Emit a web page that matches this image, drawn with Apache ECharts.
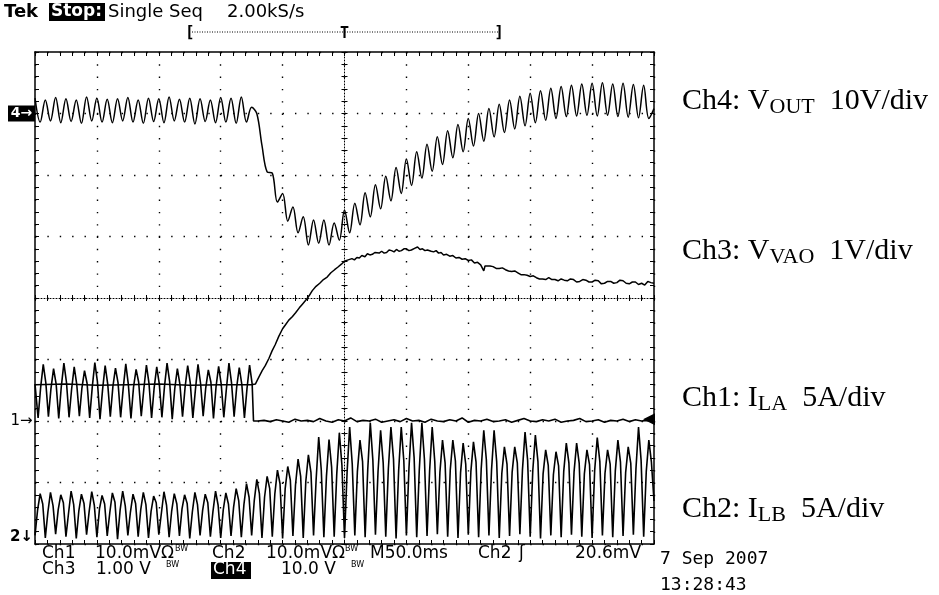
<!DOCTYPE html>
<html><head><meta charset="utf-8">
<script src="https://cdn.jsdelivr.net/npm/echarts/dist/echarts.min.js"></script>
<style>html,body{margin:0;padding:0;background:#fff;}#c{width:939px;height:595px;}</style>
</head><body><div id="c"></div>
<script>
// ===== DATA (time in divisions, 50 ms/div; amplitude in divisions) =====
const tStart = -5, tEnd = 5;
const ripplePeriod = 1 / 6;           // 120 Hz ripple = 8.33 ms = 1/6 div

// Ch4 VOUT: one peak and one trough per ripple cycle
const ch4Peaks = [3.25,3.22,3.26,3.24,3.22,3.27,3.25,3.23,3.24,3.26,3.22,3.25,3.24,3.27,3.23,3.25,3.24,3.22,3.26,3.25,3.27,
  3.10,2.48,2.03,1.70,1.48,1.32,1.27,1.27,1.22,1.43,1.54,1.71,1.84,1.98,2.12,2.26,2.38,2.50,2.62,2.72,2.82,2.92,3.00,3.08,
  3.15,3.22,3.28,3.33,3.37,3.41,3.44,3.46,3.48,3.49,3.50,3.48,3.49,3.47,3.46];
const ch4Troughs = [2.86,2.88,2.85,2.87,2.84,2.88,2.86,2.85,2.88,2.86,2.84,2.87,2.85,2.88,2.86,2.83,2.87,2.85,2.86,2.84,2.86,
  3.00,2.05,1.56,1.25,1.06,0.86,0.89,0.86,0.94,1.06,1.19,1.32,1.45,1.58,1.70,1.83,1.95,2.06,2.17,2.28,2.38,2.47,2.55,2.62,
  2.69,2.75,2.80,2.85,2.89,2.92,2.95,2.96,2.97,2.96,2.97,2.95,2.94,2.93,2.92];
const ch4End = 3.08;
const ch4Ground = 3.0;

// Ch3 VVAO: [time, value]
const ch3Points = [[-5.0,-1.41],[-4.5,-1.40],[-4.0,-1.42],[-3.5,-1.41],[-3.0,-1.40],[-2.5,-1.42],[-2.0,-1.41],[-1.5,-1.41],[-1.44,-1.40],
  [-1.39,-1.30],[-1.33,-1.18],[-1.28,-1.10],[-1.22,-0.98],[-1.17,-0.86],[-1.12,-0.76],[-1.06,-0.62],[-1.0,-0.50],[-0.95,-0.43],
  [-0.9,-0.36],[-0.84,-0.30],[-0.79,-0.24],[-0.73,-0.16],[-0.68,-0.10],[-0.62,-0.03],[-0.57,0.04],[-0.52,0.12],[-0.46,0.19],
  [-0.40,0.24],[-0.34,0.30],[-0.28,0.34],[-0.22,0.41],[-0.16,0.46],[-0.11,0.50],[-0.05,0.55],[0.0,0.60],[0.06,0.62],[0.12,0.64],
  [0.16,0.62],[0.2,0.66],[0.24,0.65],[0.28,0.69],[0.33,0.67],[0.37,0.72],[0.41,0.70],[0.45,0.71],[0.49,0.74],[0.52,0.75],[0.56,0.73],
  [0.6,0.76],[0.64,0.73],[0.68,0.74],[0.72,0.78],[0.76,0.77],[0.8,0.75],[0.84,0.79],[0.88,0.76],[0.92,0.77],[0.96,0.80],[1.0,0.80],
  [1.04,0.77],[1.08,0.78],[1.11,0.76],[1.14,0.81],[1.18,0.83],[1.22,0.79],[1.26,0.80],[1.30,0.77],[1.34,0.78],[1.37,0.79],
  [1.4,0.76],[1.44,0.75],[1.48,0.77],[1.52,0.73],[1.56,0.74],[1.6,0.70],[1.65,0.71],[1.7,0.68],[1.75,0.69],[1.8,0.65],[1.85,0.66],
  [1.9,0.63],[1.95,0.64],[2.0,0.61],[2.05,0.62],[2.1,0.57],[2.15,0.58],[2.2,0.54],[2.25,0.44],[2.27,0.52],[2.3,0.50],[2.35,0.52],
  [2.4,0.51],[2.45,0.48],[2.5,0.48],[2.55,0.49],[2.6,0.46],[2.65,0.44],[2.7,0.43],[2.75,0.44],[2.8,0.41],[2.85,0.38],[2.9,0.38],
  [2.95,0.37],[3.0,0.35],[3.05,0.36],[3.1,0.33],[3.15,0.31],[3.2,0.31],[3.25,0.30],[3.3,0.33],[3.35,0.30],[3.4,0.30],[3.45,0.28],
  [3.5,0.31],[3.55,0.29],[3.6,0.28],[3.65,0.31],[3.7,0.30],[3.75,0.26],[3.8,0.27],[3.85,0.30],[3.9,0.29],[3.95,0.26],[4.0,0.26],
  [4.05,0.29],[4.1,0.28],[4.15,0.23],[4.2,0.24],[4.25,0.27],[4.3,0.27],[4.35,0.24],[4.4,0.25],[4.45,0.29],[4.5,0.28],[4.55,0.24],
  [4.6,0.23],[4.65,0.26],[4.7,0.26],[4.75,0.22],[4.8,0.24],[4.85,0.21],[4.9,0.27],[4.95,0.25],[5.0,0.24]];

// Ch1 ILA: per ripple cycle [trough, rise, peak, fall] before phase shedding
const ch1Start = -4.95;
const ch1Cycles = [[-1.95,-1.45,-1.08,-1.38],[-1.93,-1.47,-1.15,-1.40],[-1.96,-1.44,-1.06,-1.37],[-1.94,-1.48,-1.12,-1.41],
  [-1.92,-1.46,-1.18,-1.39],[-1.95,-1.45,-1.05,-1.36],[-1.97,-1.49,-1.10,-1.40],[-1.93,-1.44,-1.14,-1.38],[-1.94,-1.47,-1.07,-1.41],
  [-1.96,-1.45,-1.16,-1.37],[-1.92,-1.48,-1.09,-1.39],[-1.95,-1.46,-1.12,-1.40],[-1.94,-1.44,-1.06,-1.36],[-1.97,-1.47,-1.15,-1.41],
  [-1.93,-1.45,-1.10,-1.38],[-1.95,-1.49,-1.08,-1.39],[-1.92,-1.46,-1.17,-1.37],[-1.96,-1.44,-1.11,-1.40],[-1.94,-1.48,-1.06,-1.38],
  [-1.93,-1.45,-1.13,-1.41],[-1.95,-1.47,-1.09,-1.40]];
const ch1FirstValue = -1.40;
const ch1DropTime = -1.47;
const ch1Ground = -2.0;
const ch1OffStart = -1.4, ch1OffStep = 0.1;
const ch1Off = [-2.00,-1.99,-2.01,-1.98,-2.00,-2.02,-1.97,-2.00,-1.99,-2.01,-1.96,-2.00,-2.02,-1.98,-2.00,-1.95,-2.01,-1.99,-2.00,
  -1.97,-2.02,-2.00,-1.98,-2.01,-1.96,-2.00,-1.99,-2.02,-1.97,-2.00,-2.01,-1.98,-2.00,-1.95,-2.02,-1.99,-2.00,-1.97,-2.01,-2.00,
  -1.98,-2.02,-1.99,-1.96,-2.00,-2.01,-1.98,-2.00,-1.97,-2.02,-2.00,-1.99,-1.96,-2.01,-2.00,-1.98,-2.02,-1.99,-2.00,-1.97,-2.01,
  -1.98,-2.00,-1.99,-2.00];
const trigLevel = -1.97;

// Ch2 ILB: per ripple cycle [trough, rise, peak, fall]
const ch2Cycles = [[-3.86,-3.45,-3.18,-3.35],[-3.90,-3.48,-3.16,-3.38],[-3.84,-3.44,-3.20,-3.33],[-3.88,-3.50,-3.14,-3.36],
  [-3.91,-3.46,-3.19,-3.34],[-3.85,-3.47,-3.15,-3.37],[-3.89,-3.43,-3.21,-3.35],[-3.87,-3.49,-3.17,-3.32],[-3.92,-3.45,-3.14,-3.38],
  [-3.86,-3.48,-3.19,-3.34],[-3.88,-3.44,-3.16,-3.36],[-3.90,-3.47,-3.22,-3.33],[-3.85,-3.50,-3.15,-3.37],[-3.89,-3.46,-3.18,-3.35],
  [-3.87,-3.43,-3.20,-3.34],[-3.91,-3.48,-3.16,-3.36],[-3.86,-3.45,-3.19,-3.33],[-3.88,-3.47,-3.14,-3.37],[-3.90,-3.44,-3.17,-3.35],
  [-3.87,-3.40,-3.10,-3.30],[-3.89,-3.36,-3.02,-3.24],[-3.86,-3.30,-2.95,-3.18],[-3.90,-3.24,-2.90,-3.10],[-3.88,-3.18,-2.80,-3.02],
  [-3.91,-3.10,-2.74,-2.96],[-3.87,-3.04,-2.62,-2.90],[-3.90,-2.98,-2.55,-2.84],[-3.86,-2.95,-2.26,-2.80],[-3.89,-2.90,-2.30,-2.75],
  [-3.88,-2.86,-2.19,-2.72],[-3.90,-2.84,-2.10,-2.70],[-3.86,-2.82,-2.31,-2.66],[-3.89,-2.80,-2.03,-2.64],[-3.85,-2.82,-2.15,-2.68],
  [-3.88,-2.78,-2.10,-2.62],[-3.91,-2.80,-2.10,-2.65],[-3.86,-2.76,-2.03,-2.60],[-3.89,-2.79,-2.03,-2.63],[-3.87,-2.81,-2.10,-2.66],
  [-3.84,-2.83,-2.31,-2.68],[-3.88,-2.80,-2.31,-2.65],[-3.90,-2.84,-2.36,-2.70],[-3.85,-2.82,-2.34,-2.67],[-3.89,-2.78,-2.15,-2.63],
  [-3.86,-2.80,-2.15,-2.66],[-3.90,-2.85,-2.42,-2.70],[-3.87,-2.83,-2.42,-2.68],[-3.84,-2.79,-2.18,-2.64],[-3.88,-2.81,-2.23,-2.66],
  [-3.91,-2.86,-2.47,-2.72],[-3.86,-2.87,-2.50,-2.73],[-3.89,-2.82,-2.36,-2.68],[-3.85,-2.83,-2.36,-2.69],[-3.88,-2.86,-2.47,-2.71],
  [-3.90,-2.80,-2.27,-2.66],[-3.86,-2.85,-2.47,-2.70],[-3.89,-2.81,-2.31,-2.67],[-3.87,-2.84,-2.42,-2.69],[-3.85,-2.78,-2.10,-2.64],
  [-3.88,-2.82,-2.31,-2.67]];
const ch2Start = -5.0;
const ch2End = -3.3;
const ch2Marker = -3.88;

// Text
const headerTexts = ['Tek', 'Stop:', 'Single Seq', '2.00kS/s'];
const readoutRow1 = ['Ch1', '10.0mVΩ', 'Ch2', '10.0mVΩ', 'M50.0ms', 'Ch2', 'ʃ', '20.6mV'];
const readoutRow2 = ['Ch3', '1.00 V', 'Ch4', '10.0 V'];
const dateText = '7 Sep 2007', timeText = '13:28:43';
const channelLabels = [
  {ch:'Ch4: V', sub:'OUT', rest:'  10V/div', level: 'ch4'},
  {ch:'Ch3: V', sub:'VAO', rest:'  1V/div', level: 'ch3'},
  {ch:'Ch1: I', sub:'LA', rest:'  5A/div', level: 'ch1'},
  {ch:'Ch2: I', sub:'LB', rest:'  5A/div', level: 'ch2'}
];

// ===== BUILD =====
function buildRipple(peaks, troughs, t0, endVal) {
  const pts = [];
  for (let k = 0; k < peaks.length; k++) {
    const t = t0 + k * ripplePeriod;
    pts.push([t, peaks[k]]);
    pts.push([t + ripplePeriod / 2, troughs[k]]);
  }
  pts.push([tEnd, endVal]);
  return pts;
}
function buildCycles(rows, t0) {
  const pts = [];
  rows.forEach((r, k) => r.forEach((v, j) => pts.push([t0 + k * ripplePeriod + j * ripplePeriod / 4, v])));
  return pts;
}
const ch4Data = buildRipple(ch4Peaks, ch4Troughs, tStart, ch4End);
const ch2Data = buildCycles(ch2Cycles, ch2Start).concat([[tEnd, ch2End]]);
let ch1Data = [[tStart, ch1FirstValue]].concat(buildCycles(ch1Cycles, ch1Start));
ch1Data.push([ch1DropTime, ch1Ground]);
ch1Off.forEach((v, i) => { const t = ch1OffStart + i * ch1OffStep; if (t <= tEnd + 1e-9) ch1Data.push([t, v]); });

const chart = echarts.init(document.getElementById('c'), null, {renderer: 'canvas'});

function ax(extra) {
  const base = {
    type: 'value', axisLabel: {show: false}, splitLine: {show: false},
    axisTick: {show: true, inside: true, length: 4, lineStyle: {color: '#000', width: 1}},
    minorTick: {show: true, splitNumber: 5, length: 4, lineStyle: {color: '#000', width: 1}},
    axisLine: {show: true, onZero: false, lineStyle: {color: '#000', width: 1.5}},
    axisPointer: {show: false}
  };
  return Object.assign(base, extra);
}
const centerLine = {show: true, onZero: true, onZeroAxisIndex: 0, lineStyle: {color: '#000', width: 1, type: [1, 2]}};
const centerTick = (inside) => ({show: true, inside: inside, length: 3, lineStyle: {color: '#000', width: 1}});
const centerMinor = {show: true, splitNumber: 5, length: 3, lineStyle: {color: '#000', width: 1}};

const lineSeries = (data, z, w, smooth) => ({
  type: 'line', data: data, xAxisIndex: 0, yAxisIndex: 0, symbol: 'none', showSymbol: false, smooth: smooth || false,
  lineStyle: {color: '#000', width: w}, animation: false, z: z, clip: true, silent: true
});

const option = {
  animation: false,
  backgroundColor: '#fff',
  grid: {left: 35, top: 52, width: 619, height: 492, containLabel: false, outerBoundsMode: 'none'},
  xAxis: [
    ax({min: tStart, max: tEnd, interval: 1, position: 'bottom',
        splitLine: {show: true, lineStyle: {color: '#000', width: 1.4, type: [1.4, 10.9]}}}),
    ax({min: tStart, max: tEnd, interval: 1, position: 'top'}),
    ax({min: tStart, max: tEnd, interval: 1, position: 'bottom', axisLine: centerLine, axisTick: centerTick(true), minorTick: centerMinor}),
    ax({min: tStart, max: tEnd, interval: 1, position: 'bottom', axisLine: Object.assign({}, centerLine, {show: false}), axisTick: centerTick(false), minorTick: centerMinor})
  ],
  yAxis: [
    ax({min: -4, max: 4, interval: 1, position: 'left',
        splitLine: {show: true, lineStyle: {color: '#000', width: 1.4, type: [1.4, 10.98]}}}),
    ax({min: -4, max: 4, interval: 1, position: 'right'}),
    ax({min: -4, max: 4, interval: 1, position: 'left', axisLine: centerLine, axisTick: centerTick(true), minorTick: centerMinor}),
    ax({min: -4, max: 4, interval: 1, position: 'left', axisLine: Object.assign({}, centerLine, {show: false}), axisTick: centerTick(false), minorTick: centerMinor})
  ],
  series: [
    lineSeries(ch2Data, 3, 1.6),
    Object.assign(lineSeries(ch1Data, 4, 1.6), {
      markPoint: {symbol: 'triangle', symbolSize: [12, 12], symbolRotate: 90, symbolOffset: [-5, 0], silent: true,
        itemStyle: {color: '#000'}, label: {show: false}, data: [{coord: [tEnd, trigLevel]}]}
    }),
    lineSeries(ch3Points, 5, 1.5),
    lineSeries(ch4Data, 6, 1.5, 0.35)
  ]
};
chart.setOption(option);

// ===== OVERLAY TEXT =====
const SANS = '"DejaVu Sans"', MONO = '"DejaVu Sans Mono"', SERIF = '"Liberation Serif"';
function txt(x, y, s, o) {
  o = o || {};
  const st = {text: s, fill: o.fill || '#000', font: (o.weight || 'normal') + ' ' + (o.size || 17) + 'px ' + (o.family || SANS),
    textAlign: o.align || 'left', align: o.align || 'left', textVerticalAlign: 'middle', verticalAlign: 'middle'};
  return {type: 'text', x: x, y: y, z: 100, silent: true, style: st};
}
function box(x, y, w, h) { return {type: 'rect', z: 99, silent: true, shape: {x: x, y: y, width: w, height: h}, style: {fill: '#000'}}; }
const px = (t, v) => chart.convertToPixel({xAxisIndex: 0, yAxisIndex: 0}, [t, v]);

const g = [];
// header
g.push(txt(4, 12, headerTexts[0], {weight: 'bold', size: 18}));
g.push(box(49, 3, 56, 18));
g.push(txt(51, 12, headerTexts[1], {weight: 'bold', size: 17, fill: '#fff'}));
g.push(txt(108, 12, headerTexts[2], {size: 18}));
g.push(txt(227, 12, headerTexts[3], {size: 18}));
// record window indicator
const tc = px(0, 0)[0];
g.push({type: 'line', z: 99, silent: true, shape: {x1: 192, y1: 32, x2: 498, y2: 32}, style: {stroke: '#000', lineWidth: 1, lineDash: [1, 1.5]}});
g.push(txt(185, 33, '[', {weight: 'bold', size: 16, family: MONO}));
g.push(txt(tc, 34, 'T', {weight: 'bold', size: 15, family: MONO, align: 'center'}));
g.push(txt(504, 33, ']', {weight: 'bold', size: 16, family: MONO, align: 'right'}));
// ground markers
const y4 = px(tStart, ch4Ground)[1], y1 = px(tStart, ch1Ground)[1], y2 = px(tStart, ch2Marker)[1];
g.push(box(8, y4 - 8, 27, 16));
g.push(txt(21.5, y4, '4→', {weight: 'bold', size: 14, fill: '#fff', align: 'center'}));
g.push(txt(21.5, y1, '1→', {size: 15, align: 'center'}));
g.push(txt(21.5, y2, '2↓', {weight: 'bold', size: 15, align: 'center'}));
// readout row 1
const r1 = 554, r2 = 570;
const r1x = [42, 95, 212, 266, 370, 478, 519, 575];
readoutRow1.forEach((s, i) => g.push(txt(r1x[i], r1, s, {size: 17})));
g.push(txt(175, r1 - 5, 'BW', {size: 8}));
g.push(txt(345, r1 - 5, 'BW', {size: 8}));
// readout row 2
g.push(txt(42, r2, readoutRow2[0], {size: 17}));
g.push(txt(96, r2, readoutRow2[1], {size: 17}));
g.push(txt(166, r2 - 5, 'BW', {size: 8}));
g.push(box(211, r2 - 8, 40, 17));
g.push(txt(213, r2, readoutRow2[2], {size: 17, fill: '#fff'}));
g.push(txt(281, r2, readoutRow2[3], {size: 17}));
g.push(txt(351, r2 - 5, 'BW', {size: 8}));
// date/time
g.push(txt(660, 559, dateText, {size: 18, family: MONO}));
g.push(txt(660, 585.5, timeText, {size: 18, family: MONO}));
// channel labels (right)
const labelTops = {ch4: 84, ch3: 234, ch1: 381, ch2: 492};
channelLabels.forEach(L => {
  g.push({type: 'text', x: 682, y: labelTops[L.level], z: 100, silent: true, style: {
    text: '{m|' + L.ch + '}{s|' + L.sub + '}{m|' + L.rest + '}',
    textAlign: 'left', align: 'left', textVerticalAlign: 'top', verticalAlign: 'top',
    rich: {
      m: {fontFamily: SERIF, fontSize: 30, lineHeight: 34, fill: '#000'},
      s: {fontFamily: SERIF, fontSize: 22, lineHeight: 18, fill: '#000', verticalAlign: 'bottom'}
    }
  }});
});
chart.setOption({graphic: {elements: g}});
</script></body></html>
